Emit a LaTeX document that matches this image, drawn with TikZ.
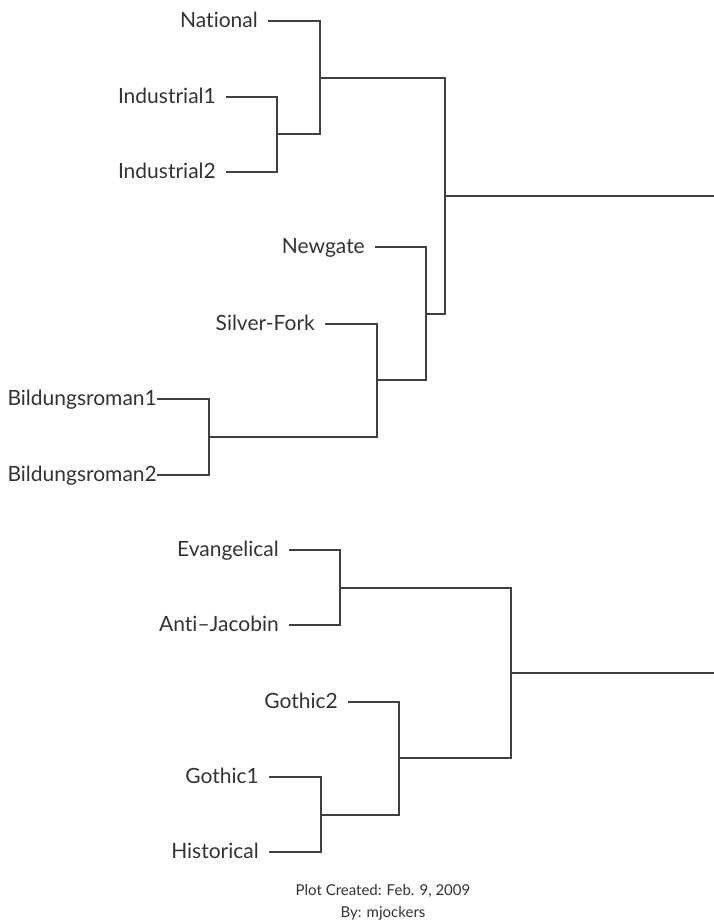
\documentclass[tikz,border=0pt]{standalone}
\usepackage{fontspec}
\setmainfont{Lato}[Ligatures=NoCommon]
\usepackage{tikz}

\begin{document}
\begin{tikzpicture}[x=1pt, y=-1pt,
    lab/.style = {anchor=east, inner ysep=0pt, inner xsep=10pt,
                  text height=12pt, text depth=0pt,
                  text=black!80, font=\fontsize{21}{24}\selectfont},
    twig/.style = {draw=black!75, line width=1.1pt},
    foot/.style = {anchor=base, inner sep=0pt, text=black!80,
                   font=\fontsize{15}{18}\selectfont}]
  \useasboundingbox (0,0) rectangle (714,921);

  % upper tree
  \node[lab] (nat) at (268,21) {National};
  \node[lab] (ind1) at (226,97) {Industrial1};
  \node[lab] (ind2) at (226,172) {Industrial2};
  \node[lab] (new) at (375,247) {Newgate};
  \node[lab] (sil) at (325,324) {Silver-Fork};
  \node[lab, inner xsep=0pt] (bil1) at (157,399) {Bildungsroman1};
  \node[lab, inner xsep=0pt] (bil2) at (157,475) {Bildungsroman2};

  \coordinate (m1) at (277,134);
  \coordinate (m2) at (320,78);
  \coordinate (m3) at (209,437);
  \coordinate (m4) at (377,380);
  \coordinate (m5) at (426,314);
  \coordinate (m6) at (445,196);
  \coordinate (r1) at (714,196);

  \draw[twig] (ind1.east) -| (m1) |- (ind2.east);
  \draw[twig] (nat.east) -| (m2) |- (m1);
  \draw[twig] (bil1.east) -| (m3) |- (bil2.east);
  \draw[twig] (sil.east) -| (m4) |- (m3);
  \draw[twig] (new.east) -| (m5) |- (m4);
  \draw[twig] (m2) -| (m6) |- (m5);
  \draw[twig] (m6) -- (r1);

  % lower tree
  \node[lab] (eva) at (289,550) {Evangelical};
  \node[lab] (ant) at (289,625) {Anti--Jacobin};
  \node[lab] (go2) at (348,702) {Gothic2};
  \node[lab] (go1) at (269,777) {Gothic1};
  \node[lab] (his) at (269,852) {Historical};

  \coordinate (n1) at (340,588);
  \coordinate (n2) at (321,815);
  \coordinate (n3) at (399,758);
  \coordinate (n4) at (511,673);
  \coordinate (r2) at (714,673);

  \draw[twig] (eva.east) -| (n1) |- (ant.east);
  \draw[twig] (go1.east) -| (n2) |- (his.east);
  \draw[twig] (go2.east) -| (n3) |- (n2);
  \draw[twig] (n1) -| (n4) |- (n3);
  \draw[twig] (n4) -- (r2);

  \node[foot] (crt) at (383,895) {Plot Created: Feb. 9, 2009};
  \node[foot] (by) at (383,917) {By: mjockers};
\end{tikzpicture}
\end{document}
